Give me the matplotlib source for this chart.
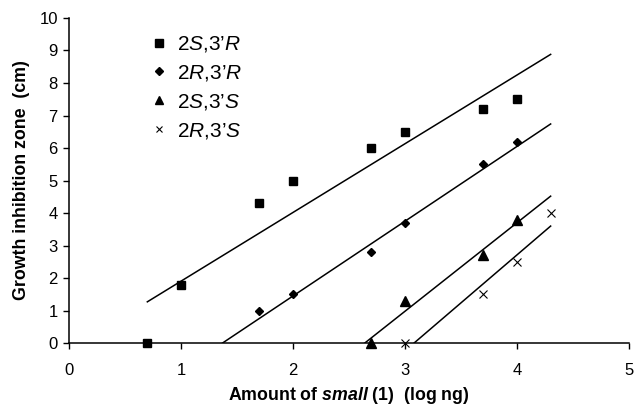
import matplotlib
matplotlib.use("Agg")
import matplotlib.pyplot as plt
import numpy as np

plt.rcParams['font.family'] = ['Liberation Sans', 'DejaVu Sans']
plt.rcParams['mathtext.fontset'] = 'custom'
plt.rcParams['mathtext.rm'] = 'Liberation Sans'
plt.rcParams['mathtext.it'] = 'Liberation Sans:italic'
plt.rcParams['mathtext.bf'] = 'Liberation Sans:bold'
plt.rcParams['mathtext.bfit'] = 'Liberation Sans:italic:bold'

# Data (log ng, cm)
x_SR = [0.7, 1.0, 1.7, 2.0, 2.7, 3.0, 3.7, 4.0]
y_SR = [0.0, 1.8, 4.3, 5.0, 6.0, 6.5, 7.2, 7.5]
x_RR = [1.7, 2.0, 2.7, 3.0, 3.7, 4.0]
y_RR = [1.0, 1.5, 2.8, 3.7, 5.5, 6.2]
x_SS = [2.7, 3.0, 3.7, 4.0]
y_SS = [0.0, 1.3, 2.7, 3.8]
x_RS = [3.0, 3.7, 4.0, 4.3]
y_RS = [0.0, 1.5, 2.5, 4.0]

# Trend lines (start/end)
line_SR_x = [0.7, 4.3]
line_SR_y = [1.27, 8.88]
line_RR_x = [1.37, 4.3]
line_RR_y = [0.0, 6.74]
line_SS_x = [2.64, 4.3]
line_SS_y = [0.0, 4.52]
line_RS_x = [3.08, 4.3]
line_RS_y = [0.0, 3.6]

labels = ["2$\\mathit{S}$,3\u2019$\\mathit{R}$",
          "2$\\mathit{R}$,3\u2019$\\mathit{R}$",
          "2$\\mathit{S}$,3\u2019$\\mathit{S}$",
          "2$\\mathit{R}$,3\u2019$\\mathit{S}$"]

fig = plt.figure(figsize=(6.38, 4.08), dpi=100)
ax = fig.add_axes([0.108, 0.159, 0.878, 0.797])

ax.plot(line_SR_x, line_SR_y, color='black', lw=1.1)
ax.plot(line_RR_x, line_RR_y, color='black', lw=1.1)
ax.plot(line_SS_x, line_SS_y, color='black', lw=1.1)
ax.plot(line_RS_x, line_RS_y, color='black', lw=1.1)

ax.plot(x_SR, y_SR, 's', color='black', ms=6, ls='none', label=labels[0], clip_on=False, zorder=5)
ax.plot(x_RR, y_RR, 'D', color='black', ms=4.5, ls='none', label=labels[1], clip_on=False, zorder=5)
ax.plot(x_SS, y_SS, '^', color='black', ms=6.5, ls='none', label=labels[2], clip_on=False, zorder=5)
ax.plot(x_RS, y_RS, 'x', color='black', ms=5.5, mew=0.8, ls='none', label=labels[3], clip_on=False, zorder=5)

ax.set_xlim(0, 5)
ax.set_ylim(0, 10)
ax.set_xticks(range(0, 6))
ax.set_yticks(range(0, 11))
ax.spines['top'].set_visible(False)
ax.spines['right'].set_visible(False)
for s in ['left', 'bottom']:
    ax.spines[s].set_linewidth(1.1)
ax.tick_params(axis='both', direction='out', length=4, width=1.0, labelsize=12, pad=4)
ax.tick_params(axis='x', pad=10)

ax.set_xlabel("Amount of $\\mathbfit{small}$ (1)  (log ng)", fontsize=12.8, fontweight='bold', labelpad=5)
ax.set_ylabel("Growth inhibition zone  (cm)", fontsize=12.8, fontweight='bold', labelpad=7)

leg = ax.legend(loc='upper left', bbox_to_anchor=(0.128, 0.975), frameon=False,
                fontsize=15, handletextpad=0.35, labelspacing=0.42, handlelength=1.0,
                borderaxespad=0, markerscale=0.85)

fig.savefig("out.png", dpi=100)
